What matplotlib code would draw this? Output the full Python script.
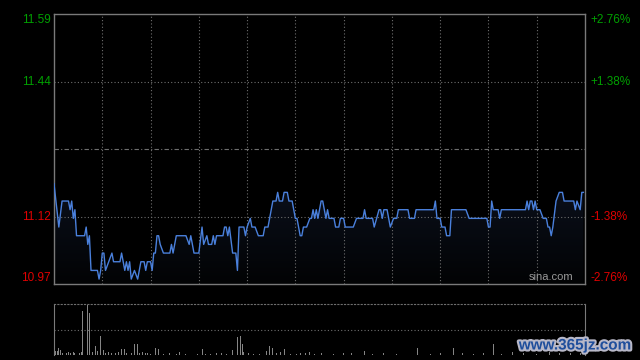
import numpy as np
import matplotlib.pyplot as plt
from matplotlib.patches import Polygon
from matplotlib.colors import LinearSegmentedColormap
import matplotlib.patheffects as pe

# 分时数据 (分钟, 价格)
prev_close = 11.28
minutes = [0, 3, 5, 9, 10, 11, 12, 13, 14, 19, 20, 21, 22, 23, 27, 28, 29, 30, 31, 32,
           34, 36, 37, 41, 42, 44, 45, 46, 47, 48, 50, 52, 53, 54, 56, 57, 58, 60, 61, 62,
           63, 64, 65, 66, 68, 72, 73, 74, 76, 82, 84, 85, 87, 90, 92, 93, 95, 96, 98, 99,
           100, 101, 105, 106, 107, 108, 109, 111, 113, 114, 115, 118, 119, 120, 122, 123, 125, 127, 130, 131,
           133, 134, 136, 138, 139, 140, 142, 143, 145, 146, 148, 150, 151, 153, 154, 155, 157, 159, 160, 161,
           162, 163, 164, 165, 166, 167, 168, 169, 170, 171, 174, 175, 177, 178, 180, 181, 186, 188, 192, 193,
           194, 198, 199, 202, 203, 204, 205, 207, 208, 209, 211, 213, 214, 220, 221, 224, 225, 236, 237, 238,
           240, 241, 243, 244, 246, 247, 256, 258, 269, 270, 271, 272, 273, 276, 277, 278, 293, 294, 295, 296,
           297, 298, 299, 300, 302, 304, 306, 307, 308, 309, 310, 312, 314, 316, 317, 323, 324, 325, 327, 328,
           329]
prices = [11.20, 11.10, 11.16, 11.16, 11.14, 11.16, 11.12, 11.14, 11.08, 11.08, 11.10, 11.06, 11.08, 11.00, 11.00, 10.98, 11.00, 11.04, 11.04, 11.00,
          11.02, 11.04, 11.02, 11.02, 11.04, 11.00, 11.02, 11.00, 11.02, 10.98, 11.00, 10.98, 11.00, 11.02, 11.02, 11.00, 11.02, 11.02, 11.00, 11.04,
          11.04, 11.08, 11.08, 11.06, 11.04, 11.04, 11.06, 11.04, 11.08, 11.08, 11.06, 11.08, 11.04, 11.04, 11.10, 11.06, 11.08, 11.06, 11.06, 11.08,
          11.06, 11.08, 11.08, 11.10, 11.10, 11.08, 11.10, 11.04, 11.04, 11.00, 11.10, 11.10, 11.08, 11.10, 11.12, 11.10, 11.10, 11.08, 11.08, 11.10,
          11.10, 11.12, 11.16, 11.16, 11.18, 11.16, 11.16, 11.18, 11.18, 11.16, 11.16, 11.12, 11.12, 11.08, 11.08, 11.10, 11.10, 11.12, 11.12, 11.14,
          11.12, 11.14, 11.12, 11.14, 11.16, 11.16, 11.14, 11.12, 11.14, 11.12, 11.12, 11.10, 11.10, 11.12, 11.12, 11.10, 11.10, 11.12, 11.12, 11.14,
          11.12, 11.12, 11.10, 11.14, 11.14, 11.12, 11.14, 11.14, 11.12, 11.10, 11.12, 11.12, 11.14, 11.14, 11.12, 11.12, 11.14, 11.14, 11.16, 11.12,
          11.12, 11.10, 11.10, 11.08, 11.08, 11.14, 11.14, 11.12, 11.12, 11.10, 11.10, 11.16, 11.14, 11.14, 11.12, 11.14, 11.14, 11.16, 11.14, 11.16,
          11.16, 11.14, 11.16, 11.14, 11.14, 11.12, 11.12, 11.10, 11.10, 11.08, 11.10, 11.16, 11.18, 11.18, 11.16, 11.16, 11.14, 11.16, 11.14, 11.18,
          11.18]

# 成交量 (分钟, 量)
vol_min = [1, 2, 3, 4, 5, 8, 9, 10, 12, 13, 16, 17, 18, 21, 22, 23, 24, 26, 27, 29,
           31, 32, 34, 36, 38, 40, 42, 44, 45, 48, 50, 52, 53, 55, 57, 58, 60, 63, 65, 68,
           72, 76, 78, 82, 87, 89, 92, 94, 97, 101, 104, 107, 111, 114, 116, 117, 118, 121, 124, 128,
           132, 134, 136, 138, 141, 143, 147, 151, 153, 156, 159, 162, 166, 174, 180, 185, 193, 198, 205, 213,
           220, 226, 234, 240, 248, 254, 261, 267, 273, 278, 285, 292, 300, 308, 314, 321, 327]
vol = [4, 4, 7, 5, 2, 2, 3, 2, 3, 2, 2, 3, 44, 50, 42, 4, 3, 9, 4, 19,
       5, 2, 3, 2, 2, 3, 6, 6, 2, 2, 11, 11, 2, 3, 2, 2, 1, 7, 6, 1,
       2, 1, 3, 1, 2, 1, 6, 1, 1, 2, 2, 1, 5, 18, 19, 11, 3, 2, 1, 1,
       4, 9, 7, 2, 3, 6, 1, 1, 2, 2, 3, 1, 2, 1, 2, 2, 4, 1, 2, 1,
       2, 7, 1, 2, 7, 2, 1, 2, 11, 1, 3, 2, 1, 3, 2, 2, 2]

left_labels = ['11.59', '11.44', '11.12', '10.97']
right_labels = ['+2.76%', '+1.38%', '-1.38%', '-2.76%']
pcts = [0.0276, 0.0138, -0.0138, -0.0276]
label_colors = ['#00a000', '#00a000', '#e00000', '#e00000']

ymin = prev_close * (1 - 0.0276)
ymax = prev_close * (1 + 0.0276)

plt.rcParams['font.family'] = ['Liberation Sans', 'DejaVu Sans']
fig = plt.figure(figsize=(6.4, 3.6), dpi=100, facecolor='black')
ax = fig.add_axes([54 / 640, 1 - 284 / 360, 531 / 640, 270 / 360], facecolor='black')
ax2 = fig.add_axes([54 / 640, 1 - 355 / 360, 531 / 640, 51 / 360], facecolor='black')

grid_c = '#6e6e6e'
border_c = '#7a7a7a'

# 渐变填充
verts = [(minutes[0], ymin)] + list(zip(minutes, prices)) + [(minutes[-1], ymin)]
poly = Polygon(verts, facecolor='none', edgecolor='none')
ax.add_patch(poly)
cmap = LinearSegmentedColormap.from_list('fill', ['#020304', '#0b101c'])
grad = np.linspace(0, 1, 256).reshape(-1, 1)
im = ax.imshow(grad, extent=[minutes[0], minutes[-1], ymin, max(prices)], origin='lower',
               aspect='auto', cmap=cmap, zorder=1)
im.set_clip_path(poly)

ax.plot(minutes, prices, color='#4a80dc', lw=1.0, zorder=3)

# 网格
for m in range(30, 330, 30):
    ax.axvline(m, color=grid_c, lw=0.8, ls=(0, (1, 2)), zorder=2)
for p in pcts[1:3]:
    ax.axhline(prev_close * (1 + p), color=grid_c, lw=0.8, ls=(0, (1, 2)), zorder=2)
ax.axhline(prev_close, color=grid_c, lw=0.8, ls=(0, (4, 2, 1, 2)), zorder=2)

ax.set_xlim(0, 330)
ax.set_ylim(ymin, ymax)
ax.set_xticks([])
ax.set_yticks([])
for s in ax.spines.values():
    s.set_color(border_c)
    s.set_linewidth(1.0)

# 坐标标签
vas = ['top', 'center', 'center', 'bottom']
for lab, rlab, p, c, va in zip(left_labels, right_labels, pcts, label_colors, vas):
    y = prev_close * (1 + p)
    ax.text(-0.006, y, lab, transform=ax.get_yaxis_transform(), ha='right', va=va,
            color=c, fontsize=8.5)
    ax.text(1.01, y, rlab, transform=ax.get_yaxis_transform(), ha='left', va=va,
            color=c, fontsize=8.5)

ax.text(0.978, 0.006, 'sina.com', transform=ax.transAxes, ha='right', va='bottom',
        color='#9a9a9a', fontsize=8, zorder=4)

# 成交量
ax2.bar(vol_min, vol, width=0.6, color='#858585')
ax2.set_xlim(0, 330)
ax2.set_ylim(0, 51)
ax2.axhline(25.5, color=grid_c, lw=0.8, ls=(0, (1, 2)))
ax2.set_xticks([])
ax2.set_yticks([])
ax2.spines['bottom'].set_visible(False)
ax2.spines['top'].set_color(grid_c)
ax2.spines['top'].set_linestyle((0, (1, 2)))
ax2.spines['left'].set_color(border_c)
ax2.spines['right'].set_color(border_c)

fig.text(575 / 640, 1 - 345.5 / 360, 'www.365jz.com', ha='center', va='center',
         color='#1f4e9c', fontsize=11, fontweight='bold',
         path_effects=[pe.withStroke(linewidth=3, foreground='#b8b8c8')])

fig.savefig('out.png', dpi=100, facecolor='black')
